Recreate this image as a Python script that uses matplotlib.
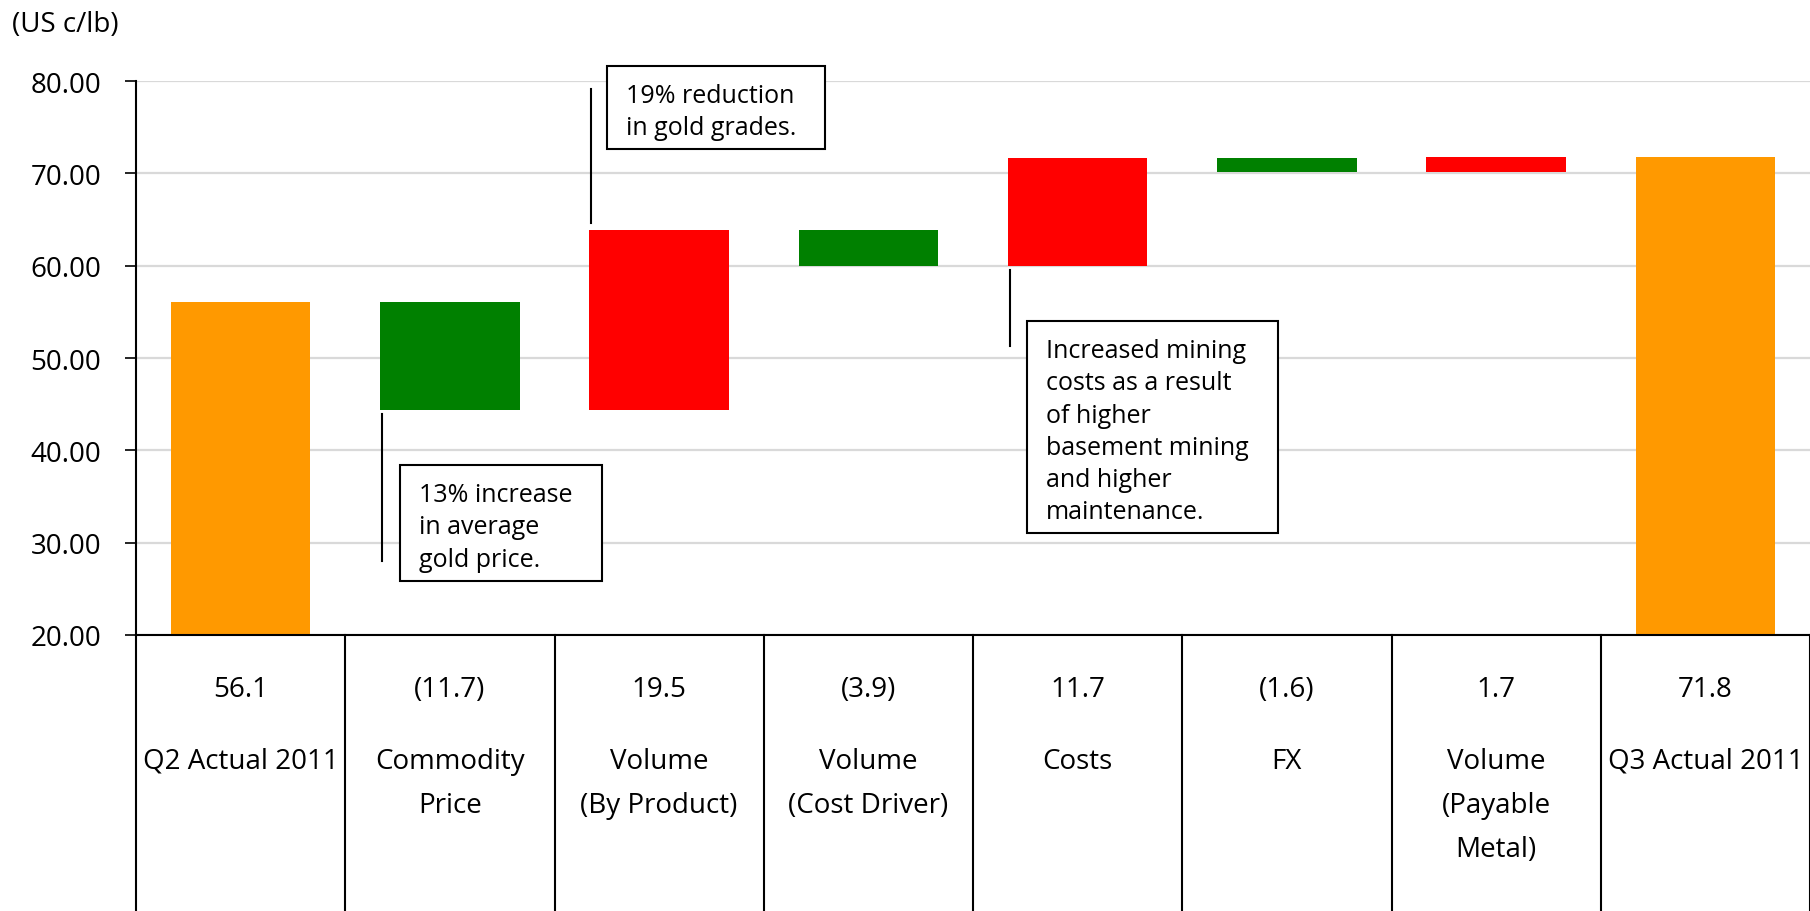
import matplotlib
matplotlib.use("Agg")
import matplotlib.pyplot as plt
import matplotlib.transforms as mtransforms
from matplotlib.patches import Rectangle

plt.rcParams["font.family"] = ["Open Sans", "DejaVu Sans"]

# --- data -------------------------------------------------------------------
categories = ["Q2 Actual 2011", "Commodity\nPrice", "Volume\n(By Product)",
              "Volume\n(Cost Driver)", "Costs", "FX", "Volume\n(Payable\nMetal)",
              "Q3 Actual 2011"]
values = [56.1, -11.7, 19.5, -3.9, 11.7, -1.6, 1.7, 71.8]
is_total = [True, False, False, False, False, False, False, True]
y_ticks = [20, 30, 40, 50, 60, 70, 80]

notes = ["13% increase\nin average\ngold price.",
         "19% reduction\nin gold grades.",
         "Increased mining\ncosts as a result\nof higher\nbasement mining\nand higher\nmaintenance."]
note_bar = [1, 2, 4]
# leader line spans and box top-left corners (data units)
note_line = [(28.0, 43.9), (64.6, 79.1), (51.3, 59.5)]
note_box = [(0.762, 38.4), (1.751, 81.6), (3.758, 54.0)]

C_TOTAL = "#FF9900"
C_UP = "#FF0000"
C_DOWN = "#008000"
FS = 20
NOTE_FS = 18
# box padding in pixels: left, right, top, bottom
PAD_L, PAD_R, PAD_T, PAD_B = 19, 29, 17, 9


def fmt_value(v):
    return f"({abs(v):.1f})" if v < 0 else f"{v:.1f}"


fig = plt.figure(figsize=(18.1, 9.12), dpi=100)
W, H = 1810, 912
ax = fig.add_axes([136 / W, (H - 636) / H, (W - 136) / W, (636 - 82) / H])

bar_w = 0.667
running = 0.0
for i, (v, tot) in enumerate(zip(values, is_total)):
    if tot:
        ax.bar(i, v, width=bar_w, color=C_TOTAL, zorder=2)
        running = v
    else:
        bottom = min(running, running + v)
        ax.bar(i, abs(v), bottom=bottom, width=bar_w,
               color=C_UP if v > 0 else C_DOWN, zorder=2)
        running += v

ax.set_xlim(-0.5, len(categories) - 0.5)
ax.set_ylim(y_ticks[0], y_ticks[-1])
ax.set_yticks(y_ticks)
ax.set_yticklabels([f"{t:.2f}" for t in y_ticks], fontsize=FS)
ax.set_xticks([])
ax.yaxis.grid(True, color="#D9D9D9", linewidth=1.6, zorder=0)
ax.set_axisbelow(True)
ax.tick_params(axis="y", direction="out", length=8, width=1.2, pad=17)
for s in ("top", "right"):
    ax.spines[s].set_visible(False)
for s in ("left", "bottom"):
    ax.spines[s].set_linewidth(1.5)
    ax.spines[s].set_color("black")

# table below the axis
trans = mtransforms.blended_transform_factory(ax.transData, ax.transAxes)
ax_h = 636 - 82
table_depth = (H - 636) / ax_h
for i in range(len(categories) + 1):
    ax.plot([i - 0.5, i - 0.5], [0, -table_depth], transform=trans,
            color="black", lw=1.5, clip_on=False)
for i, (cat, v) in enumerate(zip(categories, values)):
    ax.text(i, -(690 - 636) / ax_h, fmt_value(v), transform=trans,
            ha="center", va="center", fontsize=FS)
    for k, line in enumerate(cat.split("\n")):
        ax.text(i, -(762 + 44 * k - 636) / ax_h, line, transform=trans,
                ha="center", va="center", fontsize=FS)

# callouts: leader line + boxed text
note_texts = []
for txt, b, (y0, y1), (bx, by) in zip(notes, note_bar, note_line, note_box):
    lx = b - bar_w / 2 + 0.01
    ax.plot([lx, lx], [y0, y1], color="black", lw=1.5, clip_on=False, zorder=3)
    shift = mtransforms.ScaledTranslation(PAD_L / fig.dpi, -PAD_T / fig.dpi,
                                          fig.dpi_scale_trans)
    t = ax.text(bx, by, txt, transform=ax.transData + shift, ha="left", va="top",
                fontsize=NOTE_FS, linespacing=1.38, clip_on=False, zorder=5)
    note_texts.append(t)

fig.canvas.draw()
renderer = fig.canvas.get_renderer()
for t in note_texts:
    bb = t.get_window_extent(renderer)
    ax.add_patch(Rectangle((bb.x0 - PAD_L, bb.y0 - PAD_B),
                           bb.width + PAD_L + PAD_R, bb.height + PAD_T + PAD_B,
                           transform=mtransforms.IdentityTransform(),
                           fc="white", ec="black", lw=1.5, clip_on=False,
                           zorder=4))

fig.text(12 / W, 1 - 25 / H, "(US c/lb)", ha="left", va="center", fontsize=FS)

fig.savefig("out.png", dpi=100)
